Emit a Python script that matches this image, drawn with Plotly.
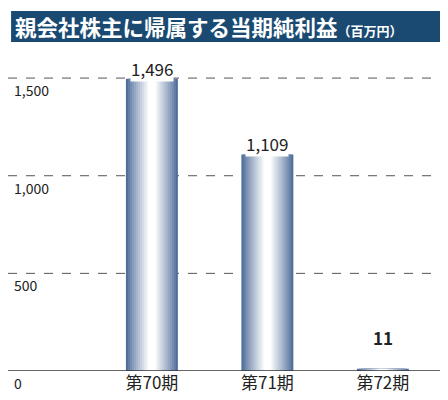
import plotly.graph_objects as go

categories = ["第70期", "第71期", "第72期"]
values = [1496, 1109, 11]
value_labels = ["1,496", "1,109", "11"]
ytick_vals = [0, 500, 1000, 1500]
ytick_text = ["0", "500", "1,000", "1,500"]

xs = [0, 1, 2]
fig = go.Figure()

# gradient emulation: overlapping bars, dark edges to white centre
N = 12
edge = (80, 110, 155)
for i in range(N):
    t = i / (N - 1)
    w = 0.45 * (1 - t * 0.85)
    c = tuple(int(e + (255 - e) * t ** 0.9) for e in edge)
    fig.add_trace(go.Bar(x=xs, y=values, width=w, marker=dict(color="rgb(%d,%d,%d)" % c, line_width=0),
                         hoverinfo="skip", showlegend=False))

fig.update_layout(barmode="overlay", width=448, height=400, plot_bgcolor="white", paper_bgcolor="white",
                  margin=dict(l=0, r=8, t=40, b=37, autoexpand=False), showlegend=False,
                  font=dict(family="Noto Sans CJK JP", color="#222"))
fig.update_xaxes(range=[-1.246, 2.564], tickvals=xs, ticktext=categories, showgrid=False, automargin=False,
                 tickfont=dict(size=17, color="#222"), ticks="", showline=False, zeroline=False)
fig.update_yaxes(range=[0, 1654], showticklabels=False, showgrid=False, zeroline=False, automargin=False)

for v, txt in zip(ytick_vals, ytick_text):
    if v > 0:
        fig.add_shape(type="line", xref="paper", x0=0, x1=1, yref="y", y0=v, y1=v,
                      line=dict(color="#555", width=1, dash="dash"), layer="below")
    fig.add_annotation(x=0.01, xref="paper", xanchor="left", y=v, yref="y", yshift=-12,
                       text=txt, showarrow=False, font=dict(size=14, color="#222"))
fig.add_shape(type="line", xref="paper", x0=0, x1=1, yref="y", y0=0, y1=0, line=dict(color="#333", width=1.5))

for x, v, t in zip(xs, values, value_labels):
    fig.add_annotation(x=x, y=v, text=("<b>%s</b>" % t) if v < 100 else t, showarrow=False,
                       yanchor="bottom", yshift=(18 if v < 100 else -3), bgcolor="white",
                       font=dict(size=17, color="#222"), borderpad=0)

# title bar
fig.add_shape(type="rect", xref="paper", yref="paper", x0=0.007, x1=1.005, y0=(363 - 34) / 323, y1=(363 - 3) / 323,
              fillcolor="#1a4a72", line_width=0)
fig.add_annotation(xref="paper", yref="paper", x=0.012, xanchor="left", y=(363 - 18.5) / 323, yanchor="middle",
                   text="<b>親会社株主に帰属する当期純利益</b><span style='font-size:13px'><b>（百万円）</b></span>",
                   showarrow=False, font=dict(size=21.5, color="white"))

fig.write_html("out.html")
